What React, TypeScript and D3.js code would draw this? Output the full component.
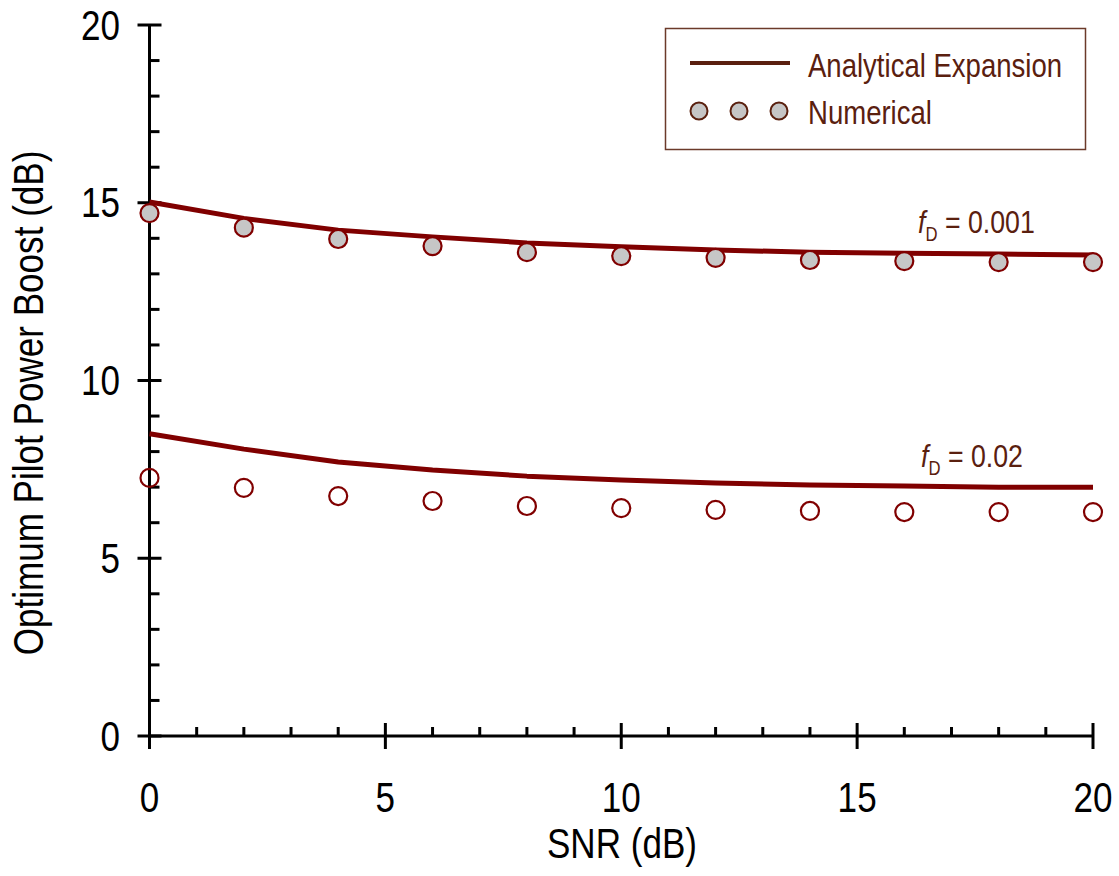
import { useEffect, useRef } from "react";
import * as d3 from "d3";

// SNR grid (dB)
const snr = [0, 2, 4, 6, 8, 10, 12, 14, 16, 18, 20];

// fD = 0.001
const analytic001 = [15.02, 14.56, 14.23, 14.04, 13.87, 13.76, 13.67, 13.61, 13.58, 13.56, 13.53];
const numeric001 = [14.71, 14.3, 13.98, 13.78, 13.61, 13.5, 13.45, 13.39, 13.36, 13.33, 13.33];

// fD = 0.02
const analytic02 = [8.5, 8.07, 7.71, 7.48, 7.31, 7.2, 7.12, 7.06, 7.03, 7.0, 7.0];
const numeric02 = [7.26, 6.98, 6.75, 6.61, 6.47, 6.41, 6.36, 6.33, 6.3, 6.3, 6.3];

const xTicks = [0, 5, 10, 15, 20];
const yTicks = [0, 5, 10, 15, 20];

const FONT = "'Liberation Sans', Arial, sans-serif";
const NARROW = 0.835; // squeeze Liberation Sans to look like Arial Narrow
const RED = "#800000";
const BROWN = "#5a200f";

function App() {
    const ref = useRef();

    useEffect(() => {
        document.body.style.margin = "0";
        const W = 1119, H = 876;
        const svg = d3.select(ref.current)
            .append("svg")
            .attr("width", W)
            .attr("height", H)
            .style("display", "block")
            .style("font-family", FONT);

        const x = d3.scaleLinear().domain([0, 20]).range([149.5, 1093]);
        const y = d3.scaleLinear().domain([0, 20]).range([736, 25]);

        // narrow text helper
        const txt = (parent, tx, ty, size, anchor, rot = 0) =>
            parent.append("text")
                .attr("transform", `translate(${tx},${ty})rotate(${rot})scale(${NARROW},1)`)
                .attr("font-size", size)
                .attr("text-anchor", anchor);

        // minor ticks
        const g = svg.append("g").attr("stroke", "#000").attr("stroke-width", 3);
        d3.range(0, 21).forEach(v => {
            if (v % 5 !== 0) {
                g.append("line").attr("x1", x(v)).attr("x2", x(v)).attr("y1", y(0)).attr("y2", y(0) - 9);
                g.append("line").attr("x1", x(0)).attr("x2", x(0) + 10).attr("y1", y(v)).attr("y2", y(v));
            }
        });
        // major ticks
        xTicks.forEach(v => {
            g.append("line").attr("x1", x(v)).attr("x2", x(v)).attr("y1", y(0) - 13).attr("y2", y(0) + 13);
        });
        yTicks.forEach(v => {
            g.append("line").attr("x1", x(0) - 12).attr("x2", x(0) + 12).attr("y1", y(v)).attr("y2", y(v));
        });
        // axis lines
        g.append("line").attr("x1", x(0)).attr("x2", x(20)).attr("y1", y(0)).attr("y2", y(0));
        g.append("line").attr("x1", x(0)).attr("x2", x(0)).attr("y1", y(0)).attr("y2", y(20));

        // tick labels
        xTicks.forEach(v => txt(svg, x(v), 812, 42, "middle").text(v));
        yTicks.forEach(v => txt(svg, 120, y(v) + 14.5, 42, "end").text(v));

        // axis titles
        txt(svg, 622, 858, 42, "middle").text("SNR (dB)");
        txt(svg, 43, 403, 42, "middle", -90).text("Optimum Pilot Power Boost (dB)");

        const line = d3.line().x((d, i) => x(snr[i])).y(d => y(d));
        [analytic001, analytic02].forEach(s => {
            svg.append("path").attr("d", line(s)).attr("fill", "none")
                .attr("stroke", RED).attr("stroke-width", 5).attr("stroke-linejoin", "round");
        });

        svg.append("g").selectAll("circle").data(numeric001).enter().append("circle")
            .attr("cx", (d, i) => x(snr[i])).attr("cy", d => y(d)).attr("r", 9)
            .attr("fill", "#c6c6c6").attr("stroke", RED).attr("stroke-width", 2.2);
        svg.append("g").selectAll("circle").data(numeric02).enter().append("circle")
            .attr("cx", (d, i) => x(snr[i])).attr("cy", d => y(d)).attr("r", 9)
            .attr("fill", "none").attr("stroke", RED).attr("stroke-width", 2.2);

        // curve labels
        const label = (lx, ly, val) => {
            const t = txt(svg, lx, ly, 32, "start").attr("fill", BROWN);
            t.append("tspan").attr("font-style", "italic").text("f");
            t.append("tspan").attr("font-size", 20).attr("dy", 8).text("D");
            t.append("tspan").attr("dy", -8).text(" = " + val);
        };
        label(918, 233, "0.001");
        label(921, 467, "0.02");

        // legend
        const lg = svg.append("g");
        lg.append("rect").attr("x", 665.5).attr("y", 28.5).attr("width", 420).attr("height", 121)
            .attr("fill", "#fff").attr("stroke", "#6b3a2a").attr("stroke-width", 1.5);
        lg.append("line").attr("x1", 690).attr("x2", 790).attr("y1", 63).attr("y2", 63)
            .attr("stroke", BROWN).attr("stroke-width", 4);
        [699, 739, 779].forEach(cx => {
            lg.append("circle").attr("cx", cx).attr("cy", 111).attr("r", 8.5)
                .attr("fill", "#c6c6c6").attr("stroke", BROWN).attr("stroke-width", 2);
        });
        txt(lg, 808, 77, 33, "start").attr("fill", BROWN).text("Analytical Expansion");
        txt(lg, 808, 124, 33, "start").attr("fill", BROWN).text("Numerical");

        return () => { ref.current && ref.current.querySelector("svg")?.remove(); };
    }, []);

    return <div ref={ref}></div>;
}

export default App;
